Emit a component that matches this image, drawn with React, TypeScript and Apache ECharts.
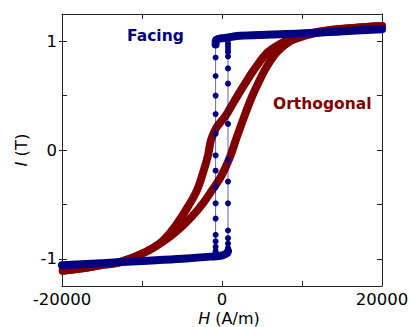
import React, { useEffect, useRef } from "react";
import * as echarts from "echarts";

const hRange = [-20000, 20000];
const iRange = [-1.25, 1.25];
const hTicks = [-20000, -10000, 0, 10000, 20000];
const hLabels = [-20000, 0, 20000];
const iTicks = [-1, -0.5, 0, 0.5, 1];
const iLabels = [-1, 0, 1];

// Orthogonal (maroon) loop
const orthoDescH = [20000, 16000, 12250, 9750, 7875, 5750, 4125, 2875, 1625, 500, -750, -1375, -1750, -2250, -3125, -4250, -5750, -7500, -9625, -12750, -15250, -17750, -19900];
const orthoDescI = [1.14, 1.12, 1.09, 1.05, 1.0, 0.9, 0.75, 0.61, 0.46, 0.32, 0.2, 0.09, -0.05, -0.18, -0.37, -0.52, -0.69, -0.84, -0.94, -1.03, -1.06, -1.09, -1.11];
const orthoAscH = [-19900, -17750, -15250, -12750, -9625, -7125, -5250, -3750, -2375, -1250, -250, 500, 1125, 1625, 2250, 3000, 3750, 4625, 5625, 6875, 8500, 10375, 13500, 20000];
const orthoAscI = [-1.11, -1.09, -1.06, -1.03, -0.94, -0.83, -0.72, -0.61, -0.49, -0.37, -0.26, -0.15, -0.04, 0.07, 0.2, 0.35, 0.49, 0.63, 0.77, 0.9, 1.0, 1.05, 1.1, 1.14];

// Facing (navy) loop
const facingTopH = [-800, -750, 375, 2250, 5625, 9750, 14750, 20000];
const facingTopI = [0.97, 1.01, 1.03, 1.05, 1.06, 1.07, 1.09, 1.11];
const facingBottomH = [-20000, -15000, -10000, -5000, -1500, 0, 600, 750];
const facingBottomI = [-1.06, -1.04, -1.02, -1.0, -0.98, -0.97, -0.95, -0.93];
const facingDropH = -800;
const facingDropI = [0.99, 0.85, 0.68, 0.5, 0.33, 0.15, -0.05, -0.19, -0.34, -0.49, -0.63, -0.78, -0.84, -0.89, -0.93, -0.95, -0.97];
const facingRiseH = 750;
const facingRiseI = [-0.95, -0.92, -0.9, -0.86, -0.81, -0.74, -0.49, -0.29, -0.09, 0.24, 0.61, 0.75, 0.86, 0.9, 0.92, 0.95, 0.98, 1.01];

const zip = (xs: number[], ys: number[]) => xs.map((x, i) => [x, ys[i]]);

const NAVY = "#000080";
const MAROON = "#800000";
const FONT = "DejaVu Sans";

export default function App() {
  const ref = useRef<HTMLDivElement>(null);
  useEffect(() => {
    if (!ref.current) return;
    const chart = echarts.init(ref.current, undefined, { renderer: "svg" });
    const axisLine = { show: true, onZero: false, lineStyle: { color: "#222", width: 1 } };
    const bandLine = (data: number[][], color: string, width: number) => ({
      type: "line",
      data,
      showSymbol: false,
      symbol: "none",
      smooth: 0.35,
      lineStyle: { color, width, cap: "round", join: "round" },
      z: 2,
    });
    const dotLine = (data: number[][]) => ({
      type: "line",
      data,
      symbol: "circle",
      symbolSize: 6,
      showSymbol: true,
      itemStyle: { color: NAVY },
      lineStyle: { color: NAVY, width: 1, opacity: 0.6 },
      z: 3,
    });
    chart.setOption({
      animation: false,
      grid: { left: 62, top: 14, right: 28, bottom: 41, containLabel: false, outerBoundsMode: "none" },
      xAxis: [
        {
          type: "value",
          min: hRange[0],
          max: hRange[1],
          position: "bottom",
          splitLine: { show: false },
          axisLine,
          axisTick: { show: true, inside: true, length: 5, customValues: hTicks, lineStyle: { color: "#222" } },
          axisLabel: {
            show: true,
            customValues: hLabels,
            formatter: (v: number) => String(v),
            fontFamily: FONT,
            fontSize: 16.5,
            color: "#000",
            margin: 5,
          },
        },
        {
          type: "value",
          min: hRange[0],
          max: hRange[1],
          position: "top",
          splitLine: { show: false },
          axisLine,
          axisTick: { show: true, inside: true, length: 5, customValues: hTicks, lineStyle: { color: "#222" } },
          axisLabel: { show: false },
        },
      ],
      yAxis: [
        {
          type: "value",
          min: iRange[0],
          max: iRange[1],
          position: "left",
          splitLine: { show: false },
          axisLine,
          axisTick: { show: true, inside: true, length: 5, customValues: iTicks, lineStyle: { color: "#222" } },
          axisLabel: {
            show: true,
            customValues: iLabels,
            formatter: (v: number) => String(v),
            fontFamily: FONT,
            fontSize: 16.5,
            color: "#000",
            margin: 5,
          },
          name: "{i|I} (T)",
          nameLocation: "middle",
          nameGap: 27,
          nameRotate: 90,
          nameTextStyle: {
            fontFamily: FONT,
            fontSize: 16.5,
            color: "#000",
            rich: { i: { fontStyle: "italic", fontFamily: FONT, fontSize: 16.5, color: "#000" } },
          },
        },
        {
          type: "value",
          min: iRange[0],
          max: iRange[1],
          position: "right",
          splitLine: { show: false },
          axisLine,
          axisTick: { show: true, inside: true, length: 5, customValues: iTicks, lineStyle: { color: "#222" } },
          axisLabel: { show: false },
        },
        {
          type: "value",
          min: iRange[0],
          max: iRange[1],
          position: "left",
          splitLine: { show: false },
          axisLine: { show: false, onZero: false },
          axisTick: { show: true, inside: false, length: 3, customValues: iLabels, lineStyle: { color: "#222" } },
          axisLabel: { show: false },
        },
      ],
      series: [
        bandLine(zip(orthoDescH, orthoDescI), MAROON, 8),
        bandLine(zip(orthoAscH, orthoAscI), MAROON, 8),
        bandLine(zip(facingTopH, facingTopI), NAVY, 8),
        bandLine(zip(facingBottomH, facingBottomI), NAVY, 8),
        dotLine(facingDropI.map((v) => [facingDropH, v])),
        dotLine(facingRiseI.map((v) => [facingRiseH, v])),
      ],
      graphic: [
        {
          type: "text",
          left: 127,
          top: 28,
          style: { text: "Facing", fill: NAVY, fontFamily: FONT, fontWeight: "bold", fontSize: 15.5 },
        },
        {
          type: "text",
          left: 273,
          top: 96,
          style: { text: "Orthogonal", fill: MAROON, fontFamily: FONT, fontWeight: "bold", fontSize: 15.5 },
        },
        {
          type: "text",
          x: 229,
          y: 318,
          style: {
            text: "{i|H} (A/m)",
            fill: "#000",
            fontFamily: FONT,
            fontSize: 16,
            align: "center",
            verticalAlign: "middle",
            rich: { i: { fontStyle: "italic", fontFamily: FONT, fontSize: 16, fill: "#000" } },
          },
        },
      ],
    });
    return () => chart.dispose();
  }, []);
  return <div ref={ref} style={{ width: 410, height: 327, position: "absolute", left: 0, top: 0 }} />;
}
